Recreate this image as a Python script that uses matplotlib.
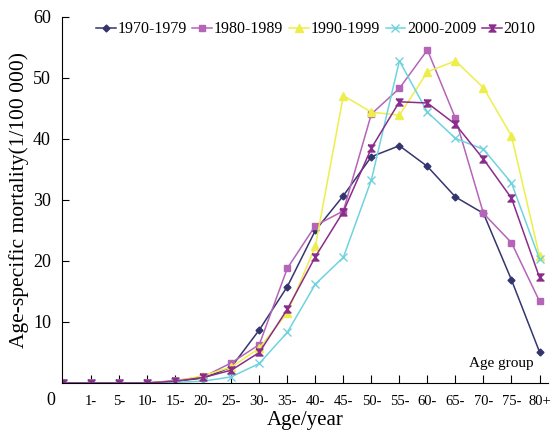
import numpy as np
import matplotlib
matplotlib.use('Agg')
import matplotlib.pyplot as plt

plt.rcParams['font.family'] = ['Liberation Serif', 'DejaVu Serif']

# age groups (first one is age 0, unlabelled on the axis)
age_groups = ['', '1-', '5-', '10-', '15-', '20-', '25-', '30-', '35-', '40-',
              '45-', '50-', '55-', '60-', '65-', '70-', '75-', '80+']

m_1970 = [0, 0, 0, 0, 0.3, 0.8, 2.6, 8.7, 15.8, 25.0, 30.7, 37.1, 38.9, 35.5, 30.5, 27.8, 16.9, 5.1]
m_1980 = [0, 0, 0, 0, 0.4, 1.0, 3.3, 6.3, 18.8, 25.8, 28.2, 44.1, 48.3, 54.6, 43.4, 27.8, 23.0, 13.4]
m_1990 = [0, 0, 0, 0, 0.3, 1.2, 2.6, 5.7, 11.5, 22.4, 47.1, 44.4, 43.9, 51.0, 52.8, 48.4, 40.5, 20.8]
m_2000 = [0, 0, 0, 0, 0.1, 0.3, 1.0, 3.2, 8.3, 16.2, 20.6, 33.3, 52.8, 44.4, 40.1, 38.3, 32.8, 20.3]
m_2010 = [0, 0, 0, 0, 0.3, 0.9, 2.1, 5.0, 12.1, 20.7, 28.1, 38.5, 46.1, 45.9, 42.4, 36.7, 30.3, 17.3]

labels = ['1970-1979', '1980-1989', '1990-1999', '2000-2009', '2010']
series = [m_1970, m_1980, m_1990, m_2000, m_2010]
colors = ['#35356e', '#b565b8', '#eeee4a', '#6fd3df', '#8a2c8c']
hourglass = [(-1, 1), (1, 1), (-1, -1), (1, -1), (-1, 1)]
markers = ['D', 's', '^', 'x', hourglass]
msizes = [3.5, 4.5, 5.5, 5.5, 5]

fig = plt.figure(figsize=(5.54, 4.37), dpi=100)
ax = fig.add_axes([0.112, 0.1236, 0.877, 0.8375])

x = np.arange(len(age_groups))
for s, lab, c, m, ms in zip(series, labels, colors, markers, msizes):
    ax.plot(x, s, color=c, marker=m, markersize=ms, linewidth=1.1,
            markeredgewidth=1.0, label=lab)

ax.set_xlim(-0.04, 17.3)
ax.set_ylim(0, 60)
ax.set_xticks(x[1:])
ax.set_xticklabels(age_groups[1:], fontsize=10.5)
ax.set_yticks([10, 20, 30, 40, 50, 60])
ax.tick_params(axis='y', direction='in', length=5, labelsize=13, pad=8)
ax.tick_params(axis='x', direction='in', length=6, pad=9)
for sp in ['top', 'right']:
    ax.spines[sp].set_visible(False)

ax.text(-0.43, -2.8, '0', fontsize=13, ha='center', va='center')
ax.text(16.8, 3.2, 'Age group', fontsize=11, ha='right', va='center')

ax.set_xlabel('Age/year', fontsize=15, labelpad=2)
ax.set_ylabel('Age-specific mortality(1/100 000)', fontsize=15.5, labelpad=3)

ax.legend(loc='upper left', bbox_to_anchor=(0.05, 1.015), ncol=5, frameon=False,
          fontsize=11.5, handlelength=1.25, handletextpad=0.1, columnspacing=0.35,
          borderaxespad=0.2)

fig.savefig('out.png', dpi=100)
